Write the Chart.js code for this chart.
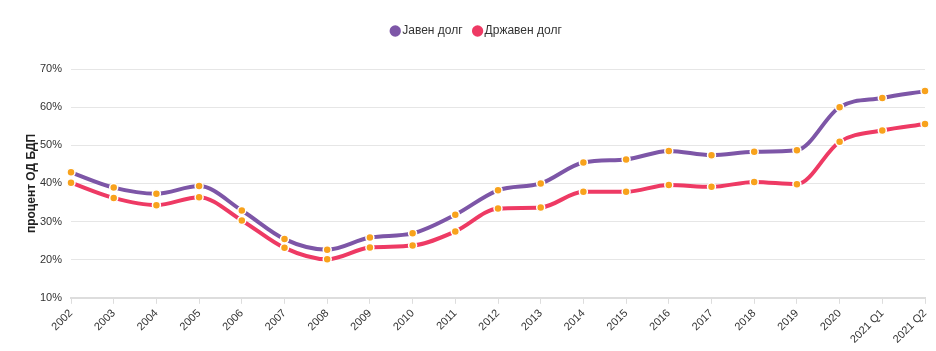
<!DOCTYPE html>
<html>
<head>
<meta charset="utf-8">
<script src="https://cdn.jsdelivr.net/npm/chart.js@4"></script>
<style>
    html, body { margin: 0; padding: 0; background: #fff; }
    #wrap { width: 936px; height: 351px; }
</style>
</head>
<body>
<div id="wrap"><canvas id="debtChart" width="936" height="351"></canvas></div>
<script>
// Податоци
const labels = ['2002', '2003', '2004', '2005', '2006', '2007', '2008', '2009', '2010', '2011',
    '2012', '2013', '2014', '2015', '2016', '2017', '2018', '2019', '2020', '2021 Q1', '2021 Q2'];
const javenDolg = [42.9, 38.9, 37.3, 39.3, 32.9, 25.4, 22.6, 25.8, 26.9, 31.8,
    38.2, 40.0, 45.5, 46.3, 48.5, 47.4, 48.3, 48.7, 60.0, 62.4, 64.2];
const drzavenDolg = [40.2, 36.2, 34.3, 36.4, 30.3, 23.1, 20.1, 23.2, 23.7, 27.4,
    33.4, 33.7, 37.8, 37.8, 39.6, 39.1, 40.4, 39.8, 50.9, 53.9, 55.6];
const yTicks = [10, 20, 30, 40, 50, 60, 70];

Chart.defaults.font.family = "'Liberation Sans', Arial, sans-serif";
Chart.defaults.color = '#333';

// повеќе простор под легендата
const legendSpace = {
    id: 'legendSpace',
    beforeInit: function(chart) {
        const fit = chart.legend.fit;
        chart.legend.fit = function() {
            fit.bind(chart.legend)();
            this.height += 22;
        };
    }
};

const ctx = document.getElementById('debtChart').getContext('2d');
const debtChart = new Chart(ctx, {
    type: 'line',
    data: {
        labels: labels,
        datasets: [{
            label: 'Јавен долг',
            data: javenDolg,
            borderColor: '#7d56a7',
            backgroundColor: '#7d56a7',
            borderWidth: 4,
            cubicInterpolationMode: 'monotone',
            pointRadius: 4,
            pointBackgroundColor: '#f8a21c',
            pointBorderColor: '#fff',
            pointBorderWidth: 1.5
        }, {
            label: 'Државен долг',
            data: drzavenDolg,
            borderColor: '#ee3a64',
            backgroundColor: '#ee3a64',
            borderWidth: 4,
            cubicInterpolationMode: 'monotone',
            pointRadius: 4,
            pointBackgroundColor: '#f8a21c',
            pointBorderColor: '#fff',
            pointBorderWidth: 1.5
        }]
    },
    options: {
        responsive: false,
        animation: false,
        layout: {
            padding: { top: 11, right: 0, left: 20, bottom: 2 }
        },
        plugins: {
            legend: {
                position: 'top',
                labels: {
                    usePointStyle: true,
                    pointStyle: 'circle',
                    boxWidth: 2,
                    boxHeight: 8,
                    padding: 14,
                    font: { size: 12 },
                    color: '#333',
                    generateLabels: function(chart) {
                        return chart.data.datasets.map(function(ds, i) {
                            return {
                                text: ds.label,
                                fillStyle: ds.borderColor,
                                strokeStyle: ds.borderColor,
                                lineWidth: 0,
                                pointStyle: 'circle',
                                datasetIndex: i,
                                fontColor: '#333'
                            };
                        });
                    }
                }
            },
            tooltip: { enabled: false }
        },
        scales: {
            x: {
                afterFit: function(axis) {
                    axis.paddingRight = 11;
                },
                grid: {
                    drawOnChartArea: false,
                    tickLength: 6,
                    color: '#ddd'
                },
                border: { color: '#ddd', width: 2 },
                ticks: {
                    maxRotation: 45,
                    minRotation: 45,
                    autoSkip: false,
                    font: { size: 11 },
                    color: '#333'
                }
            },
            y: {
                min: 10,
                max: 70,
                afterBuildTicks: function(axis) {
                    axis.ticks = yTicks.map(function(v) { return { value: v }; });
                },
                afterFit: function(axis) {
                    axis.width = 51;
                },
                grid: {
                    color: '#e6e6e6',
                    drawTicks: false
                },
                border: { display: false },
                ticks: {
                    padding: 9,
                    font: { size: 11 },
                    color: '#333',
                    callback: function(value) {
                        return value + '%';
                    }
                },
                title: {
                    display: true,
                    text: 'процент ОД БДП',
                    font: { size: 12, weight: 'bold' },
                    color: '#222'
                }
            }
        }
    },
    plugins: [legendSpace]
});
</script>
</body>
</html>
